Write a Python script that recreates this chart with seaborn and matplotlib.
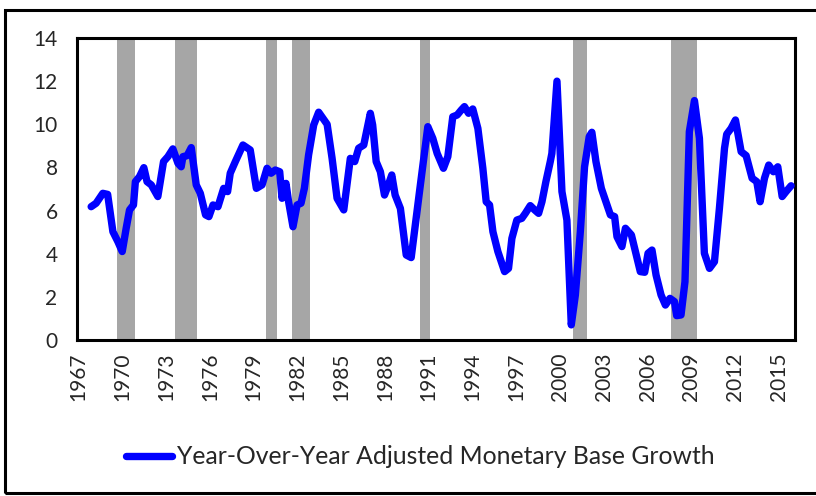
import matplotlib
matplotlib.use("Agg")
import matplotlib.pyplot as plt
import seaborn as sns
import pandas as pd
from matplotlib.patches import Rectangle

years = [1967.87, 1968.21, 1968.67, 1969.0, 1969.36, 1969.7, 1970.0, 1970.27, 1970.5, 1970.77,
         1970.9, 1971.18, 1971.48, 1971.7, 1971.99, 1972.44, 1972.83, 1973.13, 1973.47, 1973.82,
         1974.04, 1974.16, 1974.45, 1974.73, 1975.07, 1975.35, 1975.71, 1975.94, 1976.22, 1976.56,
         1976.95, 1977.22, 1977.4, 1977.75, 1978.27, 1978.77, 1979.19, 1979.58, 1979.92, 1980.2,
         1980.49, 1980.79, 1980.95, 1981.22, 1981.4, 1981.7, 1981.98, 1982.25, 1982.48, 1982.77,
         1983.12, 1983.46, 1984.04, 1984.38, 1984.72, 1985.18, 1985.63, 1985.93, 1986.2, 1986.55,
         1987.0, 1987.16, 1987.4, 1987.69, 1987.97, 1988.19, 1988.47, 1988.7, 1989.06, 1989.46,
         1989.8, 1990.37, 1990.94, 1991.28, 1991.58, 1992.01, 1992.31, 1992.65, 1992.95, 1993.23,
         1993.45, 1993.73, 1994.02, 1994.37, 1994.71, 1994.94, 1995.17, 1995.4, 1995.74, 1996.2,
         1996.47, 1996.7, 1997.04, 1997.38, 1997.62, 1997.96, 1998.26, 1998.53, 1998.76, 1999.03,
         1999.33, 1999.44, 1999.79, 2000.13, 2000.47, 2000.77, 2001.05, 2001.39, 2001.68, 2002.0,
         2002.18, 2002.46, 2002.83, 2003.1, 2003.45, 2003.74, 2003.9, 2004.24, 2004.48, 2004.89,
         2005.11, 2005.5, 2005.8, 2006.03, 2006.3, 2006.58, 2006.92, 2007.22, 2007.53, 2007.84,
         2007.99, 2008.29, 2008.56, 2008.86, 2009.21, 2009.55, 2009.89, 2010.24, 2010.58, 2010.92,
         2011.27, 2011.42, 2011.72, 2012.02, 2012.41, 2012.75, 2013.16, 2013.48, 2013.71, 2014.01,
         2014.3, 2014.62, 2014.92, 2015.22, 2015.49, 2015.83]

growth = [6.18, 6.34, 6.8, 6.75, 5.02, 4.56, 4.1, 5.18, 6.03, 6.26,
          7.34, 7.57, 7.99, 7.34, 7.19, 6.65, 8.27, 8.5, 8.86, 8.19,
          8.03, 8.5, 8.55, 8.92, 7.19, 6.8, 5.8, 5.72, 6.26, 6.18,
          7.03, 6.88, 7.73, 8.27, 9.04, 8.81, 7.03, 7.19, 7.96, 7.73,
          7.88, 7.8, 6.57, 7.26, 6.41, 5.25, 6.26, 6.34, 7.03, 8.58,
          9.97, 10.56, 10.0, 8.42, 6.57, 6.03, 8.42, 8.27, 8.89, 9.04,
          10.51, 9.97, 8.27, 7.8, 6.72, 7.11, 7.65, 6.72, 6.1, 3.94,
          3.82, 6.88, 9.89, 9.35, 8.65, 7.96, 8.5, 10.35, 10.43, 10.66,
          10.82, 10.51, 10.71, 9.81, 7.96, 6.41, 6.26, 5.02, 4.1, 3.17,
          3.32, 4.71, 5.56, 5.64, 5.87, 6.23, 6.03, 5.87, 6.41, 7.34,
          8.27, 8.65, 12.0, 6.88, 5.56, 0.7, 2.09, 5.02, 8.03, 9.43,
          9.63, 8.27, 7.03, 6.49, 5.8, 5.72, 4.79, 4.33, 5.18, 4.87,
          4.25, 3.17, 3.14, 4.02, 4.17, 3.01, 2.09, 1.62, 1.93, 1.78,
          1.13, 1.16, 2.7, 9.66, 11.1, 9.35, 4.02, 3.32, 3.63, 6.1,
          8.89, 9.54, 9.81, 10.2, 8.73, 8.55, 7.5, 7.34, 6.41, 7.5,
          8.11, 7.8, 8.03, 6.65, 6.88, 7.15]

recession_start = [1969.63, 1973.63, 1979.85, 1981.64, 1990.37, 2000.86, 2007.6]
recession_end = [1970.89, 1975.12, 1980.6, 1982.89, 1991.1, 2001.87, 2009.39]

x_ticks = list(range(1967, 2016, 3))
y_ticks = list(range(0, 15, 2))
series_name = "Year-Over-Year Adjusted Monetary Base Growth"

df = pd.DataFrame({"year": years, "growth": growth, "series": series_name})

sns.set_style("white")
plt.rcParams["font.family"] = ["Lato", "DejaVu Sans"]

fig = plt.figure(figsize=(8.16, 4.96), dpi=100)
ax = fig.add_axes([77 / 816, 1 - 340 / 496, (795 - 77) / 816, (340 - 38) / 496])

for s, e in zip(recession_start, recession_end):
    ax.axvspan(s, e, color="#a6a6a6", lw=0, zorder=1)

sns.lineplot(data=df, x="year", y="growth", hue="series", palette=["#0000ff"],
             linewidth=5.3, ax=ax, zorder=3, solid_joinstyle="round", solid_capstyle="round")

ax.set_xlim(1966.9, 2016.1)
ax.set_ylim(0, 14)
ax.set_xticks(x_ticks)
ax.set_xticklabels([str(t) for t in x_ticks], rotation=90, fontsize=15)
ax.set_yticks(y_ticks)
ax.set_yticklabels([str(t) for t in y_ticks], fontsize=15)
ax.tick_params(axis="both", length=0)
ax.tick_params(axis="y", pad=14)
ax.tick_params(axis="x", pad=9)
ax.set_xlabel("")
ax.set_ylabel("")
for sp in ax.spines.values():
    sp.set_visible(True)
    sp.set_color("black")
    sp.set_linewidth(2.2)

leg = ax.legend(loc="center", bbox_to_anchor=(420 / 816, 1 - 457 / 496),
                bbox_transform=fig.transFigure, frameon=False, fontsize=17.8,
                handlelength=1.85, handletextpad=0.2)
for line in leg.get_lines():
    line.set_linewidth(5.3)

fig.patches.append(Rectangle((5 / 816, 3 / 496), 1.2, (493 - 10) / 496,
                             transform=fig.transFigure, fill=False,
                             edgecolor="black", linewidth=2.2, zorder=0))

fig.savefig("out.png", dpi=100)
